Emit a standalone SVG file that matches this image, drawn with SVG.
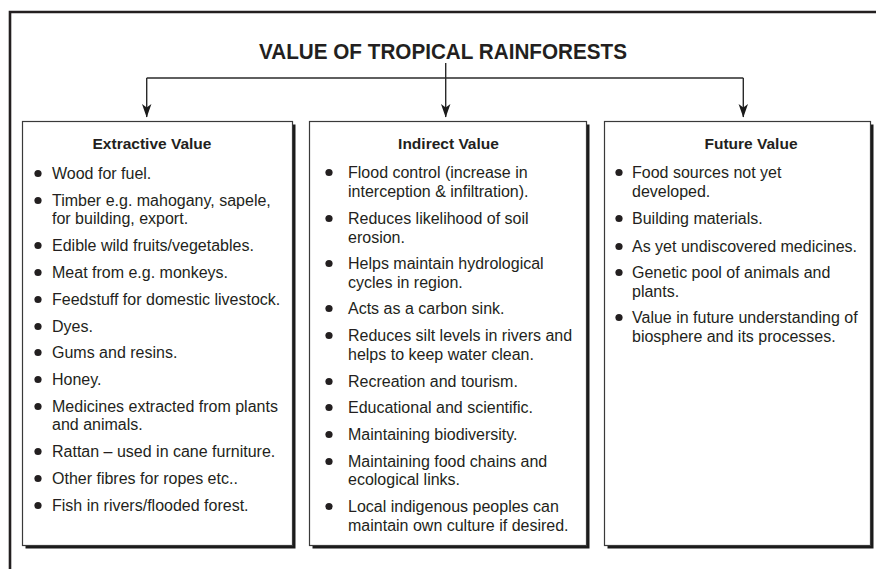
<svg xmlns="http://www.w3.org/2000/svg" width="876" height="569" viewBox="0 0 876 569">
<defs>
<style>
.t{font-family:"Liberation Sans",Arial,sans-serif;font-size:16px;fill:#231f20}
.h{font-family:"Liberation Sans",Arial,sans-serif;font-size:15.5px;font-weight:bold;fill:#231f20;text-anchor:middle}
.title{font-family:"Liberation Sans",Arial,sans-serif;font-size:22px;font-weight:bold;fill:#231f20;text-anchor:middle}
.box{fill:#fff;stroke:#3a3a3a;stroke-width:1.2}
.sh{fill:#1a1a1a}
.b{fill:#231f20}
.c{fill:none;stroke:#2a2a2a;stroke-width:1.4}
</style>
</defs>
<rect width="876" height="569" fill="#fff"/>
<path d="M876 12 H10 V569" fill="none" stroke="#231f20" stroke-width="2.6"/>
<text class="title" x="443" y="59" textLength="368" lengthAdjust="spacingAndGlyphs">VALUE OF TROPICAL RAINFORESTS</text>
<g id="connectors">
<path class="c" d="M146.7 78 H743.3"/>
<path class="c" d="M445.7 63 V117"/>
<path class="c" d="M146.7 78 V117"/>
<path class="c" d="M743.3 78 V117"/>
<path d="M445.7 117.5 L441 104 L445.7 107.5 L450.4 104 Z" fill="#1a1a1a"/>
<path d="M146.7 117.5 L142 104 L146.7 107.5 L151.4 104 Z" fill="#1a1a1a"/>
<path d="M743.3 117.5 L738.6 104 L743.3 107.5 L748 104 Z" fill="#1a1a1a"/>
</g>
<g id="extractive">
<rect class="sh" x="25.5" y="124.5" width="270" height="424"/>
<rect class="box" x="22.5" y="121.5" width="270" height="424"/>
<text class="h" x="152" y="149">Extractive Value</text>
<g class="b">
<circle cx="38" cy="173.5" r="3.6"/><circle cx="38" cy="200.5" r="3.6"/><circle cx="38" cy="245.5" r="3.6"/><circle cx="38" cy="272.5" r="3.6"/><circle cx="38" cy="299.5" r="3.6"/><circle cx="38" cy="326.5" r="3.6"/><circle cx="38" cy="352.5" r="3.6"/><circle cx="38" cy="379.5" r="3.6"/><circle cx="38" cy="406.5" r="3.6"/><circle cx="38" cy="451.5" r="3.6"/><circle cx="38" cy="478.5" r="3.6"/><circle cx="38" cy="505.5" r="3.6"/>
</g>
<text class="t" x="52" y="179">Wood for fuel.</text>
<text class="t" x="52" y="206">Timber e.g. mahogany, sapele,</text>
<text class="t" x="52" y="224">for building, export.</text>
<text class="t" x="52" y="251">Edible wild fruits/vegetables.</text>
<text class="t" x="52" y="278">Meat from e.g. monkeys.</text>
<text class="t" x="52" y="305">Feedstuff for domestic livestock.</text>
<text class="t" x="52" y="332">Dyes.</text>
<text class="t" x="52" y="358">Gums and resins.</text>
<text class="t" x="52" y="385">Honey.</text>
<text class="t" x="52" y="412">Medicines extracted from plants</text>
<text class="t" x="52" y="430">and animals.</text>
<text class="t" x="52" y="457">Rattan – used in cane furniture.</text>
<text class="t" x="52" y="484">Other fibres for ropes etc..</text>
<text class="t" x="52" y="511">Fish in rivers/flooded forest.</text>
</g>
<g id="indirect">
<rect class="sh" x="312.5" y="124.5" width="277" height="424"/>
<rect class="box" x="309.5" y="121.5" width="277" height="424"/>
<text class="h" x="448.5" y="149">Indirect Value</text>
<g class="b">
<circle cx="329" cy="172.5" r="3.6"/><circle cx="329" cy="218.5" r="3.6"/><circle cx="329" cy="263.5" r="3.6"/><circle cx="329" cy="308.5" r="3.6"/><circle cx="329" cy="335.5" r="3.6"/><circle cx="329" cy="381.5" r="3.6"/><circle cx="329" cy="407.5" r="3.6"/><circle cx="329" cy="434.5" r="3.6"/><circle cx="329" cy="461.5" r="3.6"/><circle cx="329" cy="506.5" r="3.6"/>
</g>
<text class="t" x="348" y="178">Flood control (increase in</text>
<text class="t" x="348" y="197">interception &amp; infiltration).</text>
<text class="t" x="348" y="224">Reduces likelihood of soil</text>
<text class="t" x="348" y="243">erosion.</text>
<text class="t" x="348" y="269">Helps maintain hydrological</text>
<text class="t" x="348" y="288">cycles in region.</text>
<text class="t" x="348" y="314">Acts as a carbon sink.</text>
<text class="t" x="348" y="341">Reduces silt levels in rivers and</text>
<text class="t" x="348" y="360">helps to keep water clean.</text>
<text class="t" x="348" y="387">Recreation and tourism.</text>
<text class="t" x="348" y="413">Educational and scientific.</text>
<text class="t" x="348" y="440">Maintaining biodiversity.</text>
<text class="t" x="348" y="467">Maintaining food chains and</text>
<text class="t" x="348" y="485">ecological links.</text>
<text class="t" x="348" y="512">Local indigenous peoples can</text>
<text class="t" x="348" y="531">maintain own culture if desired.</text>
</g>
<g id="future">
<rect class="sh" x="607.5" y="124.5" width="266" height="424"/>
<rect class="box" x="604.5" y="121.5" width="266" height="424"/>
<text class="h" x="751" y="149">Future Value</text>
<g class="b">
<circle cx="619" cy="172.5" r="3.6"/><circle cx="619" cy="218.5" r="3.6"/><circle cx="619" cy="246.5" r="3.6"/><circle cx="619" cy="272.5" r="3.6"/><circle cx="619" cy="317.5" r="3.6"/>
</g>
<text class="t" x="632" y="178">Food sources not yet</text>
<text class="t" x="632" y="197">developed.</text>
<text class="t" x="632" y="224">Building materials.</text>
<text class="t" x="632" y="252">As yet undiscovered medicines.</text>
<text class="t" x="632" y="278">Genetic pool of animals and</text>
<text class="t" x="632" y="297">plants.</text>
<text class="t" x="632" y="323">Value in future understanding of</text>
<text class="t" x="632" y="342">biosphere and its processes.</text>
</g>
</svg>
